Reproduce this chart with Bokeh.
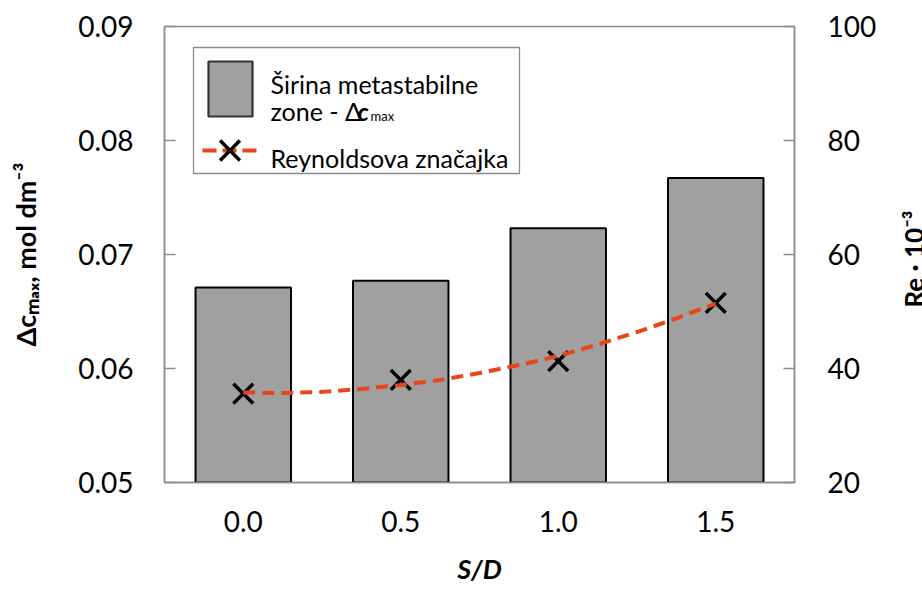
from bokeh.plotting import figure
from bokeh.models import Range1d, LinearAxis, FixedTicker, NumeralTickFormatter, Label
from bokeh.embed import file_html
from bokeh.resources import INLINE

# ---------------- data ----------------
sd_labels = ["0.0", "0.5", "1.0", "1.5"]
sd_values = [0.0, 0.5, 1.0, 1.5]
dc_max = [0.0671, 0.0677, 0.0723, 0.0767]          # mol dm^-3 (left axis)
re_values = [35.6, 38.0, 41.3, 51.5]               # Re * 10^-3 (right axis)
trend_sd = [0.0, 0.125, 0.25, 0.375, 0.5, 0.625, 0.75, 0.875, 1.0, 1.125, 1.25, 1.375, 1.5]
trend_re = [35.8, 35.7, 35.9, 36.4, 37.1, 38.0, 39.2, 40.6, 42.2, 44.2, 46.4, 48.8, 51.4]
left_ticks = [0.05, 0.06, 0.07, 0.08, 0.09]
right_ticks = [20, 40, 60, 80, 100]
left_title = "\u0394c\u2098\u2090\u2093, mol dm\u207b\u00b3"
right_title = "Re \u00b7 10\u207b\u00b3"
x_title = "S/D"

FONT = "Lato"
GRAY = "#8c8c8c"
BAR = "#a0a0a0"
ORANGE = "#e6461a"

# page geometry (pixels)
W, H = 922, 593
FL, FR, FT, FB = 164, 794, 26, 482
X0, X1 = -0.25, 1.75
Y0, Y1 = 0.05, 0.09
R0, R1 = 20, 100


def X(px):
    return X0 + (px - FL) / (FR - FL) * (X1 - X0)


def Y(py):
    return Y0 + (FB - py) / (FB - FT) * (Y1 - Y0)


p = figure(frame_width=FR - FL, frame_height=FB - FT,
           min_border_left=FL, min_border_top=FT,
           min_border_right=W - FR, min_border_bottom=H - FB,
           x_range=Range1d(X0, X1), y_range=Range1d(Y0, Y1),
           output_backend="svg", toolbar_location=None)
p.extra_y_ranges = {"re": Range1d(R0, R1)}
p.xgrid.visible = False
p.ygrid.visible = False
p.outline_line_color = GRAY
p.outline_line_width = 1.5
p.background_fill_color = "white"
p.border_fill_color = "white"

# left axis
ly = p.yaxis[0]
ly.ticker = FixedTicker(ticks=left_ticks)
ly.formatter = NumeralTickFormatter(format="0.00")
right = LinearAxis(y_range_name="re", ticker=FixedTicker(ticks=right_ticks))
p.add_layout(right, "right")
for ax in (ly, right):
    ax.major_tick_in = 11
    ax.major_tick_out = 0
    ax.minor_tick_in = 0
    ax.minor_tick_out = 0
    ax.axis_line_color = GRAY
    ax.axis_line_width = 1.5
    ax.major_tick_line_color = GRAY
    ax.major_tick_line_width = 1.5
    ax.major_label_text_font = FONT
    ax.major_label_text_font_size = "28px"
    ax.major_label_text_color = "black"
ly.major_label_standoff = 31
right.major_label_standoff = 33

ly.axis_label = left_title
ly.axis_label_text_font = FONT
ly.axis_label_text_font_style = "bold"
ly.axis_label_text_color = "black"
ly.axis_label_text_font_size = "27px"
ly.axis_label_standoff = 33

# right-hand title: a rotated label living in the right side panel,
# positioned in data units so that it sits where the reference has it
p.add_layout(Label(x=X(913), y=Y(307), text=right_title, text_font=FONT,
                   text_font_size="26px", text_font_style="bold",
                   angle=1.5707963, text_align="left",
                   text_baseline="alphabetic", text_color="black"), "right")

# bottom axis
bx = p.xaxis[0]
bx.ticker = FixedTicker(ticks=sd_values)
bx.major_label_overrides = dict(zip(sd_values, sd_labels))
bx.major_tick_in = 0
bx.major_tick_out = 0
bx.minor_tick_in = 0
bx.minor_tick_out = 0
bx.axis_line_color = GRAY
bx.axis_line_width = 1.5
bx.major_label_text_font = FONT
bx.major_label_text_font_size = "28px"
bx.major_label_text_color = "black"
bx.major_label_standoff = 28
bx.axis_label = x_title
bx.axis_label_text_font = FONT
bx.axis_label_text_font_size = "27px"
bx.axis_label_text_font_style = "bold italic"
bx.axis_label_text_color = "black"
bx.axis_label_standoff = 17

# bars
p.vbar(x=sd_values, width=0.303, top=dc_max, bottom=Y0,
       fill_color=BAR, line_color="black", line_width=2)
# markers + trend line
p.scatter(x=sd_values, y=re_values, y_range_name="re", marker="x",
          size=28, line_color="black", line_width=3.5)
p.line(x=trend_sd, y=trend_re, y_range_name="re", line_color=ORANGE,
       line_width=4, line_dash="12 7")

# legend (drawn by hand)
p.quad(left=[X(193)], right=[X(519)], top=[Y(47)], bottom=[Y(173)],
       fill_color="white", line_color=GRAY, line_width=1.3)
p.quad(left=[X(208)], right=[X(252)], top=[Y(61)], bottom=[Y(116)],
       fill_color=BAR, line_color="#333333", line_width=2.2)
p.line(x=[X(202), X(257)], y=[Y(150), Y(150)], line_color=ORANGE,
       line_width=4, line_dash="14 6")
p.scatter(x=[X(229.5)], y=[Y(150)], marker="x", size=28,
          line_color="black", line_width=3.5)


def label(text, px, py, size, style="normal"):
    p.add_layout(Label(x=X(px), y=Y(py), text=text, text_font=FONT,
                       text_font_size=f"{size}px", text_font_style=style,
                       text_align="left", text_baseline="alphabetic",
                       text_color="black"))


label("Širina metastabilne", 270, 83.5, 25)
label("zone - \u0394", 270, 110, 25)
label("c", 357, 110, 25, "bold italic")
label("max", 370, 115, 13)
label("Reynoldsova značajka", 270, 157, 25)

open("out.html", "w").write(file_html(p, INLINE))
